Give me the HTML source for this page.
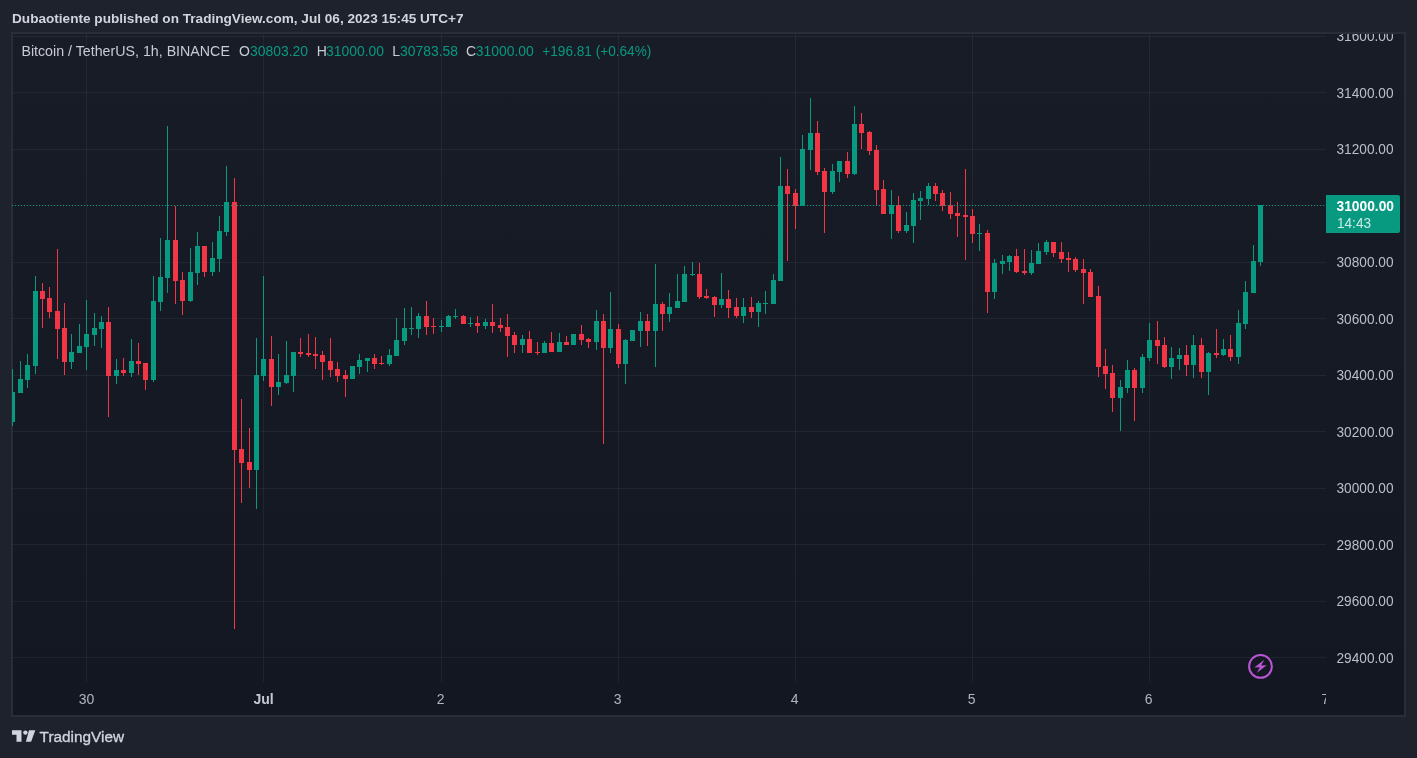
<!DOCTYPE html>
<html><head><meta charset="utf-8"><title>BTCUSDT chart</title>
<style>
html,body{margin:0;padding:0}
body{width:1417px;height:758px;overflow:hidden;position:relative;background:#1e222d;font-family:"Liberation Sans",sans-serif;color:#d1d4dc}
.t{position:absolute;white-space:nowrap;line-height:16px;font-size:14px;will-change:transform}
#hdr{left:12px;top:10px;font-weight:bold;color:#d1d4dc;font-size:13.6px;letter-spacing:0px}
#frame{position:absolute;left:11px;top:32px;width:1391px;height:681px;border:2px solid #292d38;background:linear-gradient(#181c27,#131722)}
svg{position:absolute;left:0;top:0;will-change:transform}
svg text{font-family:"Liberation Sans",sans-serif;font-size:14px}
.lg{color:#c8cbd3;letter-spacing:0.07px}
.gv{color:#089981;letter-spacing:-0.11px}
</style></head><body>
<div id="frame"></div>
<svg width="1417" height="758" viewBox="0 0 1417 758">
<defs><clipPath id="pane"><rect x="12" y="34" width="1314" height="647"/></clipPath>
<clipPath id="taxis"><rect x="13" y="681" width="1313" height="34"/></clipPath>
<clipPath id="paxis"><rect x="1326" y="34" width="78" height="647"/></clipPath></defs>

<g shape-rendering="crispEdges" fill="rgba(240,243,250,0.06)">
<rect x="86" y="34" width="1" height="648"/>
<rect x="263" y="34" width="1" height="648"/>
<rect x="441" y="34" width="1" height="648"/>
<rect x="618" y="34" width="1" height="648"/>
<rect x="795" y="34" width="1" height="648"/>
<rect x="972" y="34" width="1" height="648"/>
<rect x="1149" y="34" width="1" height="648"/>
<rect x="13" y="36" width="1313" height="1"/>
<rect x="13" y="92" width="1313" height="1"/>
<rect x="13" y="149" width="1313" height="1"/>
<rect x="13" y="205" width="1313" height="1"/>
<rect x="13" y="262" width="1313" height="1"/>
<rect x="13" y="318" width="1313" height="1"/>
<rect x="13" y="375" width="1313" height="1"/>
<rect x="13" y="431" width="1313" height="1"/>
<rect x="13" y="488" width="1313" height="1"/>
<rect x="13" y="544" width="1313" height="1"/>
<rect x="13" y="601" width="1313" height="1"/>
<rect x="13" y="657" width="1313" height="1"/>
</g>
<g clip-path="url(#pane)" shape-rendering="crispEdges">
<rect x="12" y="369" width="1" height="57" fill="#089981"/><rect x="10" y="392" width="5" height="30" fill="#089981"/>
<rect x="20" y="361" width="1" height="32" fill="#089981"/><rect x="18" y="379" width="5" height="14" fill="#089981"/>
<rect x="27" y="354" width="1" height="34" fill="#089981"/><rect x="25" y="365" width="5" height="15" fill="#089981"/>
<rect x="35" y="276" width="1" height="98" fill="#089981"/><rect x="33" y="291" width="5" height="75" fill="#089981"/>
<rect x="42" y="283" width="1" height="45" fill="#f23645"/><rect x="40" y="291" width="5" height="8" fill="#f23645"/>
<rect x="49" y="287" width="1" height="31" fill="#f23645"/><rect x="47" y="298" width="5" height="14" fill="#f23645"/>
<rect x="57" y="249" width="1" height="110" fill="#f23645"/><rect x="55" y="311" width="5" height="18" fill="#f23645"/>
<rect x="64" y="303" width="1" height="72" fill="#f23645"/><rect x="62" y="328" width="5" height="34" fill="#f23645"/>
<rect x="71" y="334" width="1" height="35" fill="#089981"/><rect x="69" y="352" width="5" height="10" fill="#089981"/>
<rect x="79" y="324" width="1" height="29" fill="#089981"/><rect x="77" y="346" width="5" height="7" fill="#089981"/>
<rect x="86" y="300" width="1" height="70" fill="#089981"/><rect x="84" y="334" width="5" height="13" fill="#089981"/>
<rect x="94" y="313" width="1" height="33" fill="#089981"/><rect x="92" y="328" width="5" height="7" fill="#089981"/>
<rect x="101" y="316" width="1" height="32" fill="#089981"/><rect x="99" y="322" width="5" height="7" fill="#089981"/>
<rect x="108" y="307" width="1" height="110" fill="#f23645"/><rect x="106" y="322" width="5" height="54" fill="#f23645"/>
<rect x="116" y="359" width="1" height="25" fill="#089981"/><rect x="114" y="370" width="5" height="6" fill="#089981"/>
<rect x="123" y="358" width="1" height="18" fill="#f23645"/><rect x="121" y="370" width="5" height="3" fill="#f23645"/>
<rect x="131" y="339" width="1" height="38" fill="#089981"/><rect x="129" y="361" width="5" height="12" fill="#089981"/>
<rect x="138" y="343" width="1" height="32" fill="#f23645"/><rect x="136" y="361" width="5" height="3" fill="#f23645"/>
<rect x="145" y="363" width="1" height="27" fill="#f23645"/><rect x="143" y="363" width="5" height="17" fill="#f23645"/>
<rect x="153" y="276" width="1" height="106" fill="#089981"/><rect x="151" y="301" width="5" height="79" fill="#089981"/>
<rect x="160" y="238" width="1" height="73" fill="#089981"/><rect x="158" y="277" width="5" height="25" fill="#089981"/>
<rect x="167" y="126" width="1" height="167" fill="#089981"/><rect x="165" y="240" width="5" height="38" fill="#089981"/>
<rect x="175" y="206" width="1" height="98" fill="#f23645"/><rect x="173" y="240" width="5" height="41" fill="#f23645"/>
<rect x="182" y="272" width="1" height="43" fill="#f23645"/><rect x="180" y="280" width="5" height="21" fill="#f23645"/>
<rect x="190" y="248" width="1" height="54" fill="#089981"/><rect x="188" y="272" width="5" height="29" fill="#089981"/>
<rect x="197" y="232" width="1" height="53" fill="#089981"/><rect x="195" y="246" width="5" height="27" fill="#089981"/>
<rect x="204" y="246" width="1" height="31" fill="#f23645"/><rect x="202" y="246" width="5" height="26" fill="#f23645"/>
<rect x="212" y="242" width="1" height="34" fill="#089981"/><rect x="210" y="258" width="5" height="14" fill="#089981"/>
<rect x="219" y="216" width="1" height="56" fill="#089981"/><rect x="217" y="231" width="5" height="28" fill="#089981"/>
<rect x="226" y="166" width="1" height="70" fill="#089981"/><rect x="224" y="202" width="5" height="30" fill="#089981"/>
<rect x="234" y="178" width="1" height="451" fill="#f23645"/><rect x="232" y="202" width="5" height="248" fill="#f23645"/>
<rect x="241" y="399" width="1" height="104" fill="#f23645"/><rect x="239" y="449" width="5" height="14" fill="#f23645"/>
<rect x="249" y="428" width="1" height="60" fill="#f23645"/><rect x="247" y="462" width="5" height="8" fill="#f23645"/>
<rect x="256" y="338" width="1" height="171" fill="#089981"/><rect x="254" y="375" width="5" height="95" fill="#089981"/>
<rect x="263" y="276" width="1" height="105" fill="#089981"/><rect x="261" y="359" width="5" height="17" fill="#089981"/>
<rect x="271" y="336" width="1" height="70" fill="#f23645"/><rect x="269" y="359" width="5" height="28" fill="#f23645"/>
<rect x="278" y="354" width="1" height="41" fill="#089981"/><rect x="276" y="382" width="5" height="5" fill="#089981"/>
<rect x="286" y="341" width="1" height="43" fill="#089981"/><rect x="284" y="375" width="5" height="8" fill="#089981"/>
<rect x="293" y="352" width="1" height="40" fill="#089981"/><rect x="291" y="352" width="5" height="24" fill="#089981"/>
<rect x="300" y="338" width="1" height="19" fill="#f23645"/><rect x="298" y="352" width="5" height="2" fill="#f23645"/>
<rect x="308" y="334" width="1" height="23" fill="#f23645"/><rect x="306" y="353" width="5" height="2" fill="#f23645"/>
<rect x="315" y="337" width="1" height="32" fill="#f23645"/><rect x="313" y="354" width="5" height="2" fill="#f23645"/>
<rect x="322" y="351" width="1" height="29" fill="#f23645"/><rect x="320" y="355" width="5" height="7" fill="#f23645"/>
<rect x="330" y="338" width="1" height="39" fill="#f23645"/><rect x="328" y="361" width="5" height="9" fill="#f23645"/>
<rect x="337" y="362" width="1" height="20" fill="#f23645"/><rect x="335" y="369" width="5" height="7" fill="#f23645"/>
<rect x="345" y="370" width="1" height="27" fill="#f23645"/><rect x="343" y="375" width="5" height="4" fill="#f23645"/>
<rect x="352" y="366" width="1" height="13" fill="#089981"/><rect x="350" y="366" width="5" height="13" fill="#089981"/>
<rect x="359" y="354" width="1" height="20" fill="#089981"/><rect x="357" y="360" width="5" height="7" fill="#089981"/>
<rect x="367" y="358" width="1" height="14" fill="#089981"/><rect x="365" y="358" width="5" height="3" fill="#089981"/>
<rect x="374" y="354" width="1" height="15" fill="#f23645"/><rect x="372" y="358" width="5" height="6" fill="#f23645"/>
<rect x="381" y="356" width="1" height="9" fill="#f23645"/><rect x="379" y="363" width="5" height="1" fill="#f23645"/>
<rect x="389" y="349" width="1" height="17" fill="#089981"/><rect x="387" y="355" width="5" height="9" fill="#089981"/>
<rect x="396" y="318" width="1" height="38" fill="#089981"/><rect x="394" y="340" width="5" height="16" fill="#089981"/>
<rect x="404" y="308" width="1" height="37" fill="#089981"/><rect x="402" y="328" width="5" height="13" fill="#089981"/>
<rect x="411" y="307" width="1" height="28" fill="#089981"/><rect x="409" y="328" width="5" height="1" fill="#089981"/>
<rect x="418" y="313" width="1" height="25" fill="#089981"/><rect x="416" y="316" width="5" height="13" fill="#089981"/>
<rect x="426" y="301" width="1" height="34" fill="#f23645"/><rect x="424" y="316" width="5" height="11" fill="#f23645"/>
<rect x="433" y="318" width="1" height="16" fill="#f23645"/><rect x="431" y="326" width="5" height="1" fill="#f23645"/>
<rect x="441" y="320" width="1" height="12" fill="#089981"/><rect x="439" y="326" width="5" height="1" fill="#089981"/>
<rect x="448" y="315" width="1" height="12" fill="#089981"/><rect x="446" y="316" width="5" height="11" fill="#089981"/>
<rect x="455" y="309" width="1" height="10" fill="#089981"/><rect x="453" y="316" width="5" height="1" fill="#089981"/>
<rect x="463" y="315" width="1" height="9" fill="#f23645"/><rect x="461" y="316" width="5" height="8" fill="#f23645"/>
<rect x="470" y="317" width="1" height="10" fill="#089981"/><rect x="468" y="323" width="5" height="1" fill="#089981"/>
<rect x="477" y="316" width="1" height="17" fill="#f23645"/><rect x="475" y="323" width="5" height="3" fill="#f23645"/>
<rect x="485" y="319" width="1" height="10" fill="#089981"/><rect x="483" y="322" width="5" height="4" fill="#089981"/>
<rect x="492" y="304" width="1" height="29" fill="#f23645"/><rect x="490" y="322" width="5" height="4" fill="#f23645"/>
<rect x="500" y="318" width="1" height="14" fill="#f23645"/><rect x="498" y="325" width="5" height="3" fill="#f23645"/>
<rect x="507" y="314" width="1" height="43" fill="#f23645"/><rect x="505" y="327" width="5" height="9" fill="#f23645"/>
<rect x="514" y="332" width="1" height="21" fill="#f23645"/><rect x="512" y="335" width="5" height="10" fill="#f23645"/>
<rect x="522" y="335" width="1" height="18" fill="#089981"/><rect x="520" y="339" width="5" height="6" fill="#089981"/>
<rect x="529" y="331" width="1" height="22" fill="#f23645"/><rect x="527" y="339" width="5" height="14" fill="#f23645"/>
<rect x="537" y="342" width="1" height="13" fill="#f23645"/><rect x="535" y="352" width="5" height="1" fill="#f23645"/>
<rect x="544" y="341" width="1" height="12" fill="#089981"/><rect x="542" y="343" width="5" height="10" fill="#089981"/>
<rect x="551" y="332" width="1" height="20" fill="#f23645"/><rect x="549" y="343" width="5" height="9" fill="#f23645"/>
<rect x="559" y="333" width="1" height="19" fill="#089981"/><rect x="557" y="342" width="5" height="10" fill="#089981"/>
<rect x="566" y="336" width="1" height="9" fill="#f23645"/><rect x="564" y="342" width="5" height="3" fill="#f23645"/>
<rect x="573" y="334" width="1" height="11" fill="#089981"/><rect x="571" y="334" width="5" height="11" fill="#089981"/>
<rect x="581" y="325" width="1" height="20" fill="#f23645"/><rect x="579" y="334" width="5" height="6" fill="#f23645"/>
<rect x="588" y="338" width="1" height="10" fill="#f23645"/><rect x="586" y="339" width="5" height="3" fill="#f23645"/>
<rect x="596" y="310" width="1" height="40" fill="#089981"/><rect x="594" y="321" width="5" height="21" fill="#089981"/>
<rect x="603" y="314" width="1" height="130" fill="#f23645"/><rect x="601" y="321" width="5" height="27" fill="#f23645"/>
<rect x="610" y="292" width="1" height="61" fill="#089981"/><rect x="608" y="329" width="5" height="19" fill="#089981"/>
<rect x="618" y="324" width="1" height="44" fill="#f23645"/><rect x="616" y="329" width="5" height="35" fill="#f23645"/>
<rect x="625" y="339" width="1" height="45" fill="#089981"/><rect x="623" y="340" width="5" height="24" fill="#089981"/>
<rect x="632" y="330" width="1" height="11" fill="#089981"/><rect x="630" y="330" width="5" height="11" fill="#089981"/>
<rect x="640" y="312" width="1" height="35" fill="#089981"/><rect x="638" y="321" width="5" height="10" fill="#089981"/>
<rect x="647" y="314" width="1" height="32" fill="#f23645"/><rect x="645" y="321" width="5" height="10" fill="#f23645"/>
<rect x="655" y="264" width="1" height="103" fill="#089981"/><rect x="653" y="304" width="5" height="27" fill="#089981"/>
<rect x="662" y="302" width="1" height="29" fill="#f23645"/><rect x="660" y="304" width="5" height="10" fill="#f23645"/>
<rect x="669" y="293" width="1" height="29" fill="#089981"/><rect x="667" y="307" width="5" height="7" fill="#089981"/>
<rect x="677" y="274" width="1" height="34" fill="#089981"/><rect x="675" y="301" width="5" height="7" fill="#089981"/>
<rect x="684" y="266" width="1" height="36" fill="#089981"/><rect x="682" y="274" width="5" height="28" fill="#089981"/>
<rect x="692" y="262" width="1" height="14" fill="#089981"/><rect x="690" y="274" width="5" height="1" fill="#089981"/>
<rect x="699" y="263" width="1" height="36" fill="#f23645"/><rect x="697" y="274" width="5" height="23" fill="#f23645"/>
<rect x="706" y="289" width="1" height="10" fill="#f23645"/><rect x="704" y="296" width="5" height="2" fill="#f23645"/>
<rect x="714" y="296" width="1" height="21" fill="#f23645"/><rect x="712" y="297" width="5" height="8" fill="#f23645"/>
<rect x="721" y="273" width="1" height="35" fill="#089981"/><rect x="719" y="299" width="5" height="6" fill="#089981"/>
<rect x="728" y="290" width="1" height="28" fill="#f23645"/><rect x="726" y="299" width="5" height="9" fill="#f23645"/>
<rect x="736" y="298" width="1" height="20" fill="#f23645"/><rect x="734" y="307" width="5" height="9" fill="#f23645"/>
<rect x="743" y="298" width="1" height="25" fill="#089981"/><rect x="741" y="307" width="5" height="9" fill="#089981"/>
<rect x="751" y="297" width="1" height="21" fill="#f23645"/><rect x="749" y="307" width="5" height="5" fill="#f23645"/>
<rect x="758" y="301" width="1" height="26" fill="#089981"/><rect x="756" y="303" width="5" height="9" fill="#089981"/>
<rect x="765" y="291" width="1" height="23" fill="#089981"/><rect x="763" y="303" width="5" height="1" fill="#089981"/>
<rect x="773" y="274" width="1" height="30" fill="#089981"/><rect x="771" y="280" width="5" height="24" fill="#089981"/>
<rect x="780" y="157" width="1" height="124" fill="#089981"/><rect x="778" y="186" width="5" height="95" fill="#089981"/>
<rect x="787" y="169" width="1" height="92" fill="#f23645"/><rect x="785" y="186" width="5" height="8" fill="#f23645"/>
<rect x="795" y="189" width="1" height="40" fill="#f23645"/><rect x="793" y="193" width="5" height="13" fill="#f23645"/>
<rect x="802" y="135" width="1" height="71" fill="#089981"/><rect x="800" y="149" width="5" height="57" fill="#089981"/>
<rect x="810" y="98" width="1" height="72" fill="#089981"/><rect x="808" y="133" width="5" height="17" fill="#089981"/>
<rect x="817" y="121" width="1" height="54" fill="#f23645"/><rect x="815" y="133" width="5" height="39" fill="#f23645"/>
<rect x="824" y="168" width="1" height="65" fill="#f23645"/><rect x="822" y="171" width="5" height="21" fill="#f23645"/>
<rect x="832" y="164" width="1" height="30" fill="#089981"/><rect x="830" y="171" width="5" height="21" fill="#089981"/>
<rect x="839" y="161" width="1" height="21" fill="#089981"/><rect x="837" y="161" width="5" height="11" fill="#089981"/>
<rect x="847" y="152" width="1" height="26" fill="#f23645"/><rect x="845" y="161" width="5" height="13" fill="#f23645"/>
<rect x="854" y="106" width="1" height="69" fill="#089981"/><rect x="852" y="124" width="5" height="50" fill="#089981"/>
<rect x="861" y="113" width="1" height="36" fill="#f23645"/><rect x="859" y="124" width="5" height="9" fill="#f23645"/>
<rect x="869" y="131" width="1" height="24" fill="#f23645"/><rect x="867" y="132" width="5" height="19" fill="#f23645"/>
<rect x="876" y="145" width="1" height="60" fill="#f23645"/><rect x="874" y="150" width="5" height="40" fill="#f23645"/>
<rect x="883" y="180" width="1" height="34" fill="#f23645"/><rect x="881" y="189" width="5" height="25" fill="#f23645"/>
<rect x="891" y="190" width="1" height="49" fill="#089981"/><rect x="889" y="205" width="5" height="9" fill="#089981"/>
<rect x="898" y="196" width="1" height="37" fill="#f23645"/><rect x="896" y="205" width="5" height="26" fill="#f23645"/>
<rect x="906" y="212" width="1" height="21" fill="#089981"/><rect x="904" y="225" width="5" height="6" fill="#089981"/>
<rect x="913" y="193" width="1" height="50" fill="#089981"/><rect x="911" y="200" width="5" height="26" fill="#089981"/>
<rect x="920" y="191" width="1" height="29" fill="#089981"/><rect x="918" y="198" width="5" height="3" fill="#089981"/>
<rect x="928" y="183" width="1" height="22" fill="#089981"/><rect x="926" y="186" width="5" height="13" fill="#089981"/>
<rect x="935" y="183" width="1" height="18" fill="#f23645"/><rect x="933" y="186" width="5" height="8" fill="#f23645"/>
<rect x="942" y="190" width="1" height="21" fill="#f23645"/><rect x="940" y="193" width="5" height="13" fill="#f23645"/>
<rect x="950" y="192" width="1" height="27" fill="#f23645"/><rect x="948" y="205" width="5" height="9" fill="#f23645"/>
<rect x="957" y="202" width="1" height="35" fill="#f23645"/><rect x="955" y="213" width="5" height="3" fill="#f23645"/>
<rect x="965" y="169" width="1" height="91" fill="#f23645"/><rect x="963" y="215" width="5" height="2" fill="#f23645"/>
<rect x="972" y="209" width="1" height="34" fill="#f23645"/><rect x="970" y="216" width="5" height="18" fill="#f23645"/>
<rect x="979" y="224" width="1" height="27" fill="#089981"/><rect x="977" y="233" width="5" height="1" fill="#089981"/>
<rect x="987" y="230" width="1" height="83" fill="#f23645"/><rect x="985" y="233" width="5" height="59" fill="#f23645"/>
<rect x="994" y="259" width="1" height="40" fill="#089981"/><rect x="992" y="263" width="5" height="29" fill="#089981"/>
<rect x="1002" y="255" width="1" height="19" fill="#089981"/><rect x="1000" y="261" width="5" height="3" fill="#089981"/>
<rect x="1009" y="255" width="1" height="16" fill="#089981"/><rect x="1007" y="256" width="5" height="6" fill="#089981"/>
<rect x="1016" y="249" width="1" height="24" fill="#f23645"/><rect x="1014" y="256" width="5" height="16" fill="#f23645"/>
<rect x="1024" y="249" width="1" height="26" fill="#f23645"/><rect x="1022" y="271" width="5" height="2" fill="#f23645"/>
<rect x="1031" y="250" width="1" height="25" fill="#089981"/><rect x="1029" y="263" width="5" height="10" fill="#089981"/>
<rect x="1038" y="243" width="1" height="21" fill="#089981"/><rect x="1036" y="251" width="5" height="13" fill="#089981"/>
<rect x="1046" y="240" width="1" height="15" fill="#089981"/><rect x="1044" y="242" width="5" height="10" fill="#089981"/>
<rect x="1053" y="242" width="1" height="15" fill="#f23645"/><rect x="1051" y="242" width="5" height="11" fill="#f23645"/>
<rect x="1061" y="242" width="1" height="21" fill="#f23645"/><rect x="1059" y="252" width="5" height="7" fill="#f23645"/>
<rect x="1068" y="252" width="1" height="20" fill="#f23645"/><rect x="1066" y="258" width="5" height="2" fill="#f23645"/>
<rect x="1075" y="257" width="1" height="15" fill="#f23645"/><rect x="1073" y="259" width="5" height="11" fill="#f23645"/>
<rect x="1083" y="259" width="1" height="45" fill="#f23645"/><rect x="1081" y="269" width="5" height="4" fill="#f23645"/>
<rect x="1090" y="269" width="1" height="28" fill="#f23645"/><rect x="1088" y="272" width="5" height="25" fill="#f23645"/>
<rect x="1098" y="286" width="1" height="91" fill="#f23645"/><rect x="1096" y="296" width="5" height="71" fill="#f23645"/>
<rect x="1105" y="349" width="1" height="40" fill="#f23645"/><rect x="1103" y="366" width="5" height="8" fill="#f23645"/>
<rect x="1112" y="365" width="1" height="47" fill="#f23645"/><rect x="1110" y="373" width="5" height="25" fill="#f23645"/>
<rect x="1120" y="380" width="1" height="51" fill="#089981"/><rect x="1118" y="387" width="5" height="11" fill="#089981"/>
<rect x="1127" y="360" width="1" height="33" fill="#089981"/><rect x="1125" y="370" width="5" height="18" fill="#089981"/>
<rect x="1134" y="368" width="1" height="53" fill="#f23645"/><rect x="1132" y="370" width="5" height="18" fill="#f23645"/>
<rect x="1142" y="354" width="1" height="39" fill="#089981"/><rect x="1140" y="357" width="5" height="31" fill="#089981"/>
<rect x="1149" y="323" width="1" height="38" fill="#089981"/><rect x="1147" y="340" width="5" height="18" fill="#089981"/>
<rect x="1157" y="321" width="1" height="43" fill="#f23645"/><rect x="1155" y="340" width="5" height="6" fill="#f23645"/>
<rect x="1164" y="337" width="1" height="31" fill="#f23645"/><rect x="1162" y="345" width="5" height="22" fill="#f23645"/>
<rect x="1171" y="347" width="1" height="32" fill="#089981"/><rect x="1169" y="358" width="5" height="9" fill="#089981"/>
<rect x="1179" y="348" width="1" height="22" fill="#089981"/><rect x="1177" y="355" width="5" height="4" fill="#089981"/>
<rect x="1186" y="345" width="1" height="31" fill="#f23645"/><rect x="1184" y="355" width="5" height="10" fill="#f23645"/>
<rect x="1193" y="335" width="1" height="43" fill="#089981"/><rect x="1191" y="345" width="5" height="20" fill="#089981"/>
<rect x="1201" y="338" width="1" height="40" fill="#f23645"/><rect x="1199" y="345" width="5" height="27" fill="#f23645"/>
<rect x="1208" y="352" width="1" height="43" fill="#089981"/><rect x="1206" y="353" width="5" height="19" fill="#089981"/>
<rect x="1216" y="329" width="1" height="29" fill="#f23645"/><rect x="1214" y="353" width="5" height="2" fill="#f23645"/>
<rect x="1223" y="339" width="1" height="17" fill="#089981"/><rect x="1221" y="349" width="5" height="6" fill="#089981"/>
<rect x="1230" y="335" width="1" height="26" fill="#f23645"/><rect x="1228" y="349" width="5" height="8" fill="#f23645"/>
<rect x="1238" y="310" width="1" height="54" fill="#089981"/><rect x="1236" y="323" width="5" height="34" fill="#089981"/>
<rect x="1245" y="281" width="1" height="48" fill="#089981"/><rect x="1243" y="292" width="5" height="32" fill="#089981"/>
<rect x="1253" y="245" width="1" height="48" fill="#089981"/><rect x="1251" y="261" width="5" height="32" fill="#089981"/>
<rect x="1260" y="205" width="1" height="61" fill="#089981"/><rect x="1258" y="205" width="5" height="57" fill="#089981"/>
<line x1="12" y1="205.5" x2="1326" y2="205.5" stroke="#089981" stroke-width="1" stroke-dasharray="1 2"/>
</g>
<g clip-path="url(#paxis)" fill="#bcbfc8">
<text x="1336.5" y="41" textLength="57" lengthAdjust="spacingAndGlyphs">31600.00</text>
<text x="1336.5" y="97.5" textLength="57" lengthAdjust="spacingAndGlyphs">31400.00</text>
<text x="1336.5" y="154" textLength="57" lengthAdjust="spacingAndGlyphs">31200.00</text>
<text x="1336.5" y="267" textLength="57" lengthAdjust="spacingAndGlyphs">30800.00</text>
<text x="1336.5" y="323.5" textLength="57" lengthAdjust="spacingAndGlyphs">30600.00</text>
<text x="1336.5" y="380" textLength="57" lengthAdjust="spacingAndGlyphs">30400.00</text>
<text x="1336.5" y="436.5" textLength="57" lengthAdjust="spacingAndGlyphs">30200.00</text>
<text x="1336.5" y="493" textLength="57" lengthAdjust="spacingAndGlyphs">30000.00</text>
<text x="1336.5" y="549.5" textLength="57" lengthAdjust="spacingAndGlyphs">29800.00</text>
<text x="1336.5" y="606" textLength="57" lengthAdjust="spacingAndGlyphs">29600.00</text>
<text x="1336.5" y="662.5" textLength="57" lengthAdjust="spacingAndGlyphs">29400.00</text>
</g>
<path d="M1326 195h72a2 2 0 0 1 2 2v34a2 2 0 0 1-2 2h-72z" fill="#089981"/>
<text x="1336.5" y="211" fill="#ffffff" font-weight="bold" textLength="57.5" lengthAdjust="spacingAndGlyphs">31000.00</text>
<text x="1337" y="228" fill="#cdebe5" textLength="34" lengthAdjust="spacingAndGlyphs">14:43</text>
<g clip-path="url(#taxis)" fill="#b2b5be" text-anchor="middle">
<text x="86.5" y="704">30</text>
<text x="263.5" y="704" font-weight="bold" fill="#c5c8d0">Jul</text>
<text x="440.7" y="704">2</text>
<text x="617.7" y="704">3</text>
<text x="794.7" y="704">4</text>
<text x="971.7" y="704">5</text>
<text x="1148.7" y="704">6</text>
<text x="1325.3" y="704">7</text>
</g>
<g transform="translate(1260.5 666.4)"><circle r="11.4" fill="#141823" stroke="#bb55d4" stroke-width="2"/><path d="M3.8-6.6L-6.2 1.0L-0.6 0.8L-3.8 6.7L6.2-1.2L0.6-0.8Z" fill="#bb55d4"/></g>
<g fill="#d1d4dc"><path d="M12 730.3h9.5v11.4h-5v-6.9h-4.5z"/><circle cx="25.4" cy="732.6" r="2.2"/><path d="M29 730.3h6.3l-4.2 11.4h-5.2z"/></g>
<text x="39.6" y="742.4" fill="#d1d4dc" stroke="#d1d4dc" stroke-width="0.35" style="font-size:15.5px" textLength="84.5" lengthAdjust="spacingAndGlyphs">TradingView</text>
<text x="12.0" y="23" fill="#d1d4dc" textLength="451.5" lengthAdjust="spacingAndGlyphs" font-weight="bold" style="font-size:13.6px">Dubaotiente published on TradingView.com, Jul 06, 2023 15:45 UTC+7</text>
<text x="21.4" y="55.8" fill="#c8cbd3" textLength="208.5" lengthAdjust="spacingAndGlyphs" >Bitcoin / TetherUS, 1h, BINANCE</text>
<text x="239" y="55.8" fill="#c8cbd3" >O</text>
<text x="250" y="55.8" fill="#089981" textLength="58" lengthAdjust="spacingAndGlyphs" >30803.20</text>
<text x="316.7" y="55.8" fill="#c8cbd3" >H</text>
<text x="326" y="55.8" fill="#089981" textLength="58" lengthAdjust="spacingAndGlyphs" >31000.00</text>
<text x="392.2" y="55.8" fill="#c8cbd3" >L</text>
<text x="400" y="55.8" fill="#089981" textLength="58" lengthAdjust="spacingAndGlyphs" >30783.58</text>
<text x="466" y="55.8" fill="#c8cbd3" >C</text>
<text x="475.8" y="55.8" fill="#089981" textLength="58" lengthAdjust="spacingAndGlyphs" >31000.00</text>
<text x="542.3" y="55.8" fill="#089981" textLength="109" lengthAdjust="spacingAndGlyphs" >+196.81 (+0.64%)</text>
</svg>
</body></html>
